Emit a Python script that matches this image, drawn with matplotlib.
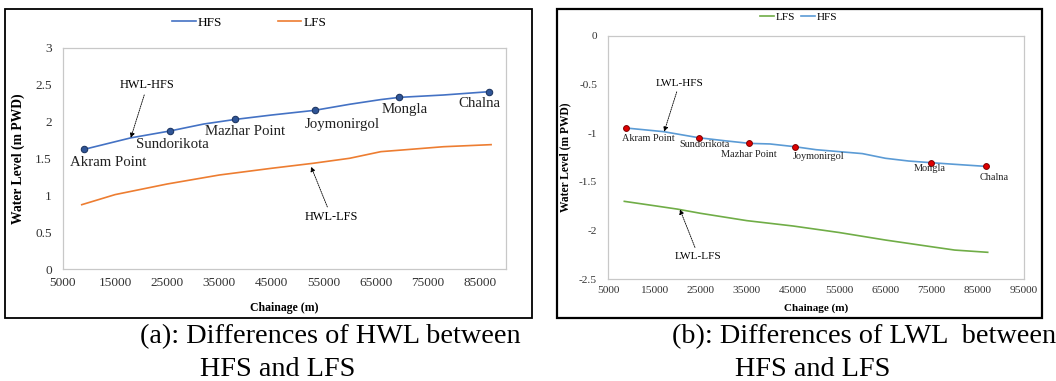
import numpy as np
import matplotlib
matplotlib.use("Agg")
import matplotlib.pyplot as plt
from matplotlib.patches import Rectangle
from matplotlib.ticker import FuncFormatter

plt.rcParams['font.family'] = ['Liberation Serif', 'DejaVu Serif']

# station names (same along both profiles)
stations = ["Akram Point", "Sundorikota", "Mazhar Point", "Joymonirgol", "Mongla", "Chalna"]

# (a) high water level, m PWD
hwl_station_x = [9100, 25480, 38000, 53300, 69550, 86760]
hwl_station_hfs = [1.625, 1.873, 2.03, 2.154, 2.33, 2.407]
hwl_hfs_x = [9100, 18000, 25480, 32000, 38000, 45000, 53300, 60000, 66000, 69550, 78000, 86760]
hwl_hfs = [1.625, 1.78, 1.873, 1.968, 2.03, 2.09, 2.154, 2.236, 2.30, 2.33, 2.362, 2.407]
hwl_lfs_x = [8600, 15000, 25000, 35000, 45000, 53000, 60000, 66000, 70000, 78000, 87140]
hwl_lfs = [0.873, 1.01, 1.154, 1.276, 1.367, 1.435, 1.503, 1.593, 1.615, 1.66, 1.688]

# (b) low water level, m PWD
lwl_station_x = [8770, 24570, 35530, 45350, 74800, 86700]
lwl_station_hfs = [-0.947, -1.047, -1.105, -1.139, -1.303, -1.341]
lwl_hfs_x = [8770, 17000, 24570, 30000, 35530, 40000, 45350, 50000, 55000, 60000, 65000, 70000, 74800, 80000, 86700]
lwl_hfs = [-0.947, -0.985, -1.047, -1.077, -1.105, -1.111, -1.139, -1.17, -1.19, -1.21, -1.258, -1.286, -1.303, -1.32, -1.341]
lwl_lfs_x = [8470, 15000, 20000, 25000, 35000, 45000, 55000, 65000, 75000, 80000, 87140]
lwl_lfs = [-1.70, -1.745, -1.78, -1.823, -1.898, -1.953, -2.02, -2.097, -2.166, -2.20, -2.223]

# station label offsets in pixels (dx, dy)
hwl_label_off = [(24, -13), (3, -13), (10, -12), (28, -14), (5, -12), (-10, -12)]
lwl_label_off = [(23, -11), (6, -7), (0, -11), (24, -10), (-1, -6), (9, -11)]

fig = plt.figure(figsize=(10.56, 3.81), dpi=100)
W, H = 1056.0, 381.0

def px_rect(x0, y0, x1, y1):
  return [x0 / W, 1 - y1 / H, (x1 - x0) / W, (y1 - y0) / H]

# panel frames
fig.patches.append(Rectangle((5 / W, 1 - 318 / H), 527 / W, 309 / H, transform=fig.transFigure,
                             fill=False, edgecolor="black", lw=1.3))
fig.patches.append(Rectangle((557 / W, 1 - 318 / H), 485 / W, 309 / H, transform=fig.transFigure,
                             fill=False, edgecolor="black", lw=1.6))

fmt = FuncFormatter(lambda v, p: "%g" % v)

def style_axes(ax, tick_size):
  for s in ax.spines.values():
    s.set_color("#C8C8C8")
    s.set_linewidth(0.9)
  ax.tick_params(length=0, labelsize=tick_size, colors="#333333")
  ax.yaxis.set_major_formatter(fmt)

# ---- (a) HWL ----
ax1 = fig.add_axes(px_rect(63, 48, 506, 269))
style_axes(ax1, 9.6)
ax1.tick_params(axis="x", pad=6)
ax1.tick_params(axis="y", pad=8)
l1, = ax1.plot(hwl_hfs_x, hwl_hfs, color="#4472C4", lw=1.2, label="HFS")
l2, = ax1.plot(hwl_lfs_x, hwl_lfs, color="#ED7D31", lw=1.2, label="LFS")
ax1.plot(hwl_station_x, hwl_station_hfs, "o", ms=4.6, mfc="#2F5597", mec="#1F3864", mew=0.8)
for name, x, y, off in zip(stations, hwl_station_x, hwl_station_hfs, hwl_label_off):
  ax1.annotate(name, (x, y), xytext=off, textcoords="offset pixels", ha="center", va="center",
               fontsize=10.7, color="#222222")
ax1.set_xlim(5000, 90000)
ax1.set_ylim(0, 3)
ax1.set_xticks(np.arange(5000, 85001, 10000))
ax1.set_yticks(np.arange(0, 3.01, 0.5))
ax1.set_ylabel("Water Level (m PWD)", fontsize=9.8, fontweight="bold")
ax1.yaxis.set_label_coords(-0.086, 0.5)
ax1.set_xlabel("Chainage (m)", fontsize=8.5, fontweight="bold")
ax1.xaxis.set_label_coords(0.5, -0.15)
arrow = dict(arrowstyle="-|>", linestyle=(0, (1.5, 1.2)), color="black", lw=0.6, mutation_scale=7,
             shrinkA=1, shrinkB=0)
ax1.annotate("HWL-HFS", xy=(18000, 1.78), xytext=(21200, 2.50), ha="center", va="center",
             fontsize=8.8, arrowprops=arrow)
ax1.annotate("HWL-LFS", xy=(52600, 1.389), xytext=(56500, 0.706), ha="center", va="center",
             fontsize=8.8, arrowprops=arrow)
fig.legend(handles=[l1, l2], loc="center left", bbox_to_anchor=(172 / W, 1 - 22.7 / H), ncol=2,
           frameon=False, fontsize=9.5, handlelength=1.8, handletextpad=0.15, columnspacing=4.2,
           borderpad=0, borderaxespad=0)

# ---- (b) LWL ----
ax2 = fig.add_axes(px_rect(608.3, 35.7, 1024, 279.3))
style_axes(ax2, 8.2)
ax2.tick_params(axis="x", pad=5)
ax2.tick_params(axis="y", pad=8)
l3, = ax2.plot(lwl_lfs_x, lwl_lfs, color="#70AD47", lw=1.2, label="LFS")
l4, = ax2.plot(lwl_hfs_x, lwl_hfs, color="#5B9BD5", lw=1.2, label="HFS")
ax2.plot(lwl_station_x, lwl_station_hfs, "o", ms=4.2, mfc="#E00000", mec="#7A0000", mew=0.7)
for name, x, y, off in zip(stations, lwl_station_x, lwl_station_hfs, lwl_label_off):
  ax2.annotate(name, (x, y), xytext=off, textcoords="offset pixels", ha="center", va="center",
               fontsize=7.4, color="#222222")
ax2.set_xlim(5000, 95000)
ax2.set_ylim(-2.5, 0)
ax2.set_xticks(np.arange(5000, 95001, 10000))
ax2.set_yticks(np.arange(-2.5, 0.01, 0.5))
ax2.set_ylabel("Water Level (m PWD)", fontsize=8.3, fontweight="bold")
ax2.yaxis.set_label_coords(-0.088, 0.5)
ax2.set_xlabel("Chainage (m)", fontsize=8.0, fontweight="bold")
ax2.xaxis.set_label_coords(0.5, -0.1)
ax2.annotate("LWL-HFS", xy=(17100, -0.985), xytext=(20400, -0.488), ha="center", va="center",
             fontsize=8.1, arrowprops=arrow)
ax2.annotate("LWL-LFS", xy=(20500, -1.782), xytext=(24500, -2.261), ha="center", va="center",
             fontsize=8.1, arrowprops=arrow)
fig.legend(handles=[l3, l4], loc="center left", bbox_to_anchor=(760 / W, 1 - 16.7 / H), ncol=2,
           frameon=False, fontsize=8.1, handlelength=1.25, handletextpad=0.1, columnspacing=0.6,
           borderpad=0, borderaxespad=0)

# captions
cap = dict(fontsize=20.3, va="center", ha="left", color="black")
fig.text(140 / W, 1 - 337 / H, "(a): Differences of HWL between", **cap)
fig.text(200 / W, 1 - 369 / H, "HFS and LFS", **cap)
fig.text(672 / W, 1 - 337 / H, "(b): Differences of LWL  between", **cap)
fig.text(735 / W, 1 - 369 / H, "HFS and LFS", **cap)

fig.savefig("out.png", dpi=100)
